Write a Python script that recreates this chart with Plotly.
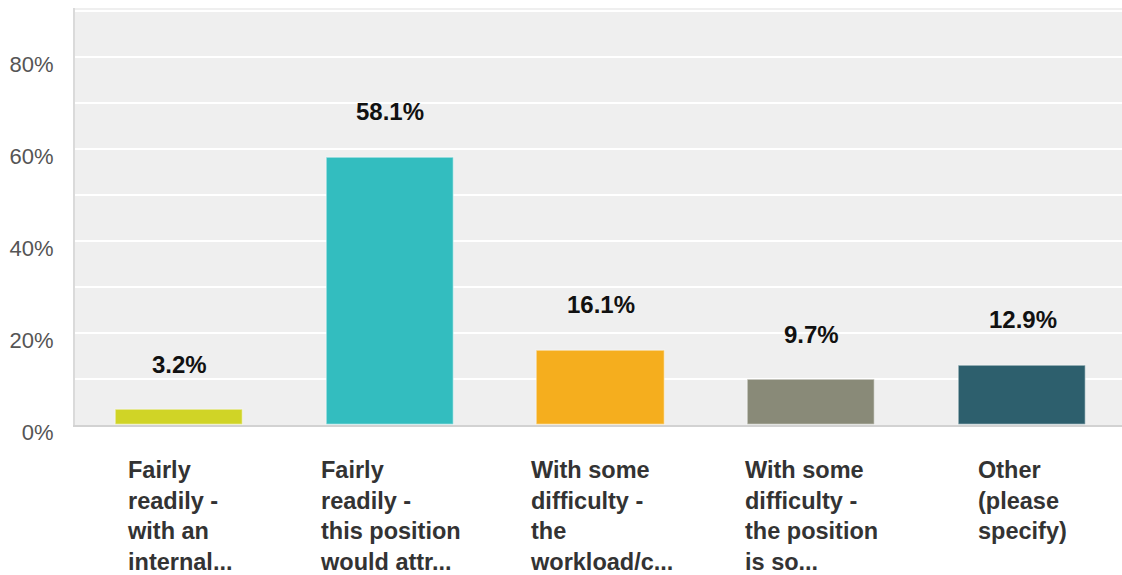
import plotly.graph_objects as go

# Survey responses: share of respondents per answer option
categories = [
    "Fairly<br>readily -<br>with an<br>internal...",
    "Fairly<br>readily -<br>this position<br>would attr...",
    "With some<br>difficulty -<br>the<br>workload/c...",
    "With some<br>difficulty -<br>the position<br>is so...",
    "Other<br>(please<br>specify)",
]
values = [3.2, 58.1, 16.1, 9.7, 12.9]
bar_colors = ["#d0d426", "#33bdbf", "#f5ae1e", "#898a78", "#2d5f6d"]

y_tickvals = [0, 10, 20, 30, 40, 50, 60, 70, 80, 90]
y_ticktext = ["0%", "", "20%", "", "40%", "", "60%", "", "80%", ""]

fig = go.Figure()
fig.add_trace(go.Bar(
    x=categories,
    y=values,
    width=0.603,
    marker=dict(color=bar_colors, line=dict(color="rgba(255,255,255,0.35)", width=1.5)),
    hoverinfo="skip",
))

# value labels above each bar
for cat, val in zip(categories, values):
    fig.add_annotation(
        x=cat, y=val, xref="x", yref="y",
        text=f"<b>{val:.1f}%</b>",
        showarrow=False,
        yanchor="middle", yshift=46,
        font=dict(family="Liberation Sans, Arial, sans-serif", size=24, color="#111111"),
    )

# multi-line category labels, left-aligned block centred under each bar
for cat in categories:
    fig.add_annotation(
        x=cat, y=0, xref="x", yref="paper",
        text=f"<b>{cat}</b>",
        showarrow=False,
        xanchor="center", yanchor="top", align="left",
        yshift=-30,
        font=dict(family="Liberation Sans, Arial, sans-serif", size=23.5, color="#333333"),
    )

fig.update_layout(
    width=1122, height=575,
    margin=dict(l=75, r=0, t=8, b=150),
    paper_bgcolor="white",
    plot_bgcolor="#efefef",
    showlegend=False,
    bargap=0,
)
fig.update_xaxes(
    type="category",
    categoryorder="array", categoryarray=categories,
    range=[-0.496, 4.472],
    showticklabels=False, ticks="",
    showgrid=False, zeroline=False,
    showline=True, linecolor="#d2d2d2", linewidth=2,
)
fig.update_yaxes(
    range=[0, 90.65],
    tickvals=y_tickvals, ticktext=y_ticktext,
    showgrid=True, gridcolor="white", gridwidth=2,
    zeroline=False,
    showline=True, linecolor="#dadada", linewidth=2,
    ticks="", ticklabelstandoff=15, ticklabelshift=7,
    tickfont=dict(family="Liberation Sans, Arial, sans-serif", size=22, color="#555555"),
)

fig.write_html("out.html")
